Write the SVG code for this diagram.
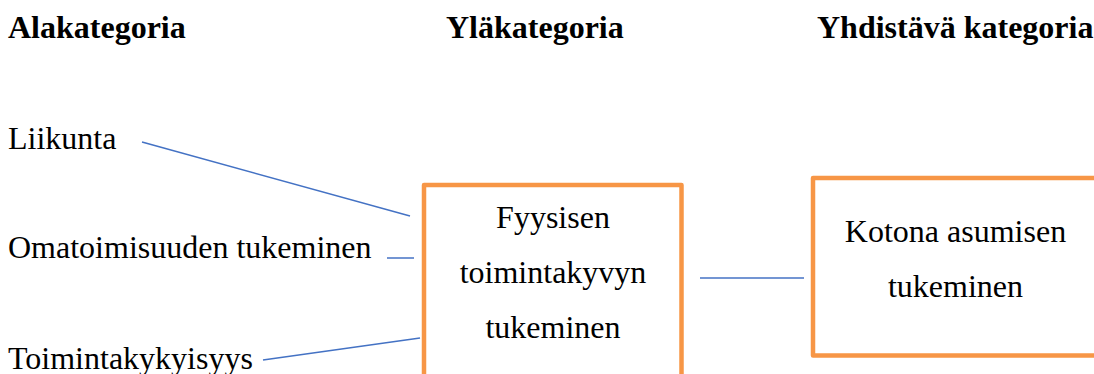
<svg xmlns="http://www.w3.org/2000/svg" width="1094" height="374" viewBox="0 0 1094 374">
<style>
.h{font-family:"Liberation Serif","Times New Roman",serif;font-size:32px;font-weight:bold;fill:#000}
.t{font-family:"Liberation Serif","Times New Roman",serif;font-size:32px;fill:#000}
.c{text-anchor:middle}
.box{fill:#fff;stroke:#F79646;stroke-width:4.5;stroke-linejoin:round}
.ln{stroke:#4472C4;stroke-width:1.5;fill:none}
</style>
<rect width="1094" height="374" fill="#fff"/>
<g id="headers">
<text class="h" x="8" y="38">Alakategoria</text>
<text class="h" x="446" y="38">Yläkategoria</text>
<text class="h" x="817" y="38">Yhdistävä kategoria</text>
</g>
<g id="connectors">
<line class="ln" x1="142" y1="142" x2="410" y2="216"/>
<line class="ln" x1="387" y1="258" x2="414" y2="258"/>
<line class="ln" x1="263" y1="360" x2="420" y2="338"/>
<line class="ln" x1="700" y1="278" x2="804" y2="278"/>
</g>
<g id="node-liikunta"><text class="t" x="8" y="149">Liikunta</text></g>
<g id="node-omatoimisuus"><text class="t" x="8" y="258">Omatoimisuuden tukeminen</text></g>
<g id="node-toimintakykyisyys"><text class="t" x="8" y="369">Toimintakykyisyys</text></g>
<g id="node-fyysisen">
<rect class="box" x="424" y="185" width="257.5" height="200"/>
<text class="t c" x="553" y="228">Fyysisen</text>
<text class="t c" x="553" y="283">toimintakyvyn</text>
<text class="t c" x="553" y="338">tukeminen</text>
</g>
<g id="node-kotona">
<rect class="box" x="813" y="178" width="285" height="177.5"/>
<text class="t c" x="955.5" y="242">Kotona asumisen</text>
<text class="t c" x="955.5" y="297">tukeminen</text>
</g>
</svg>
